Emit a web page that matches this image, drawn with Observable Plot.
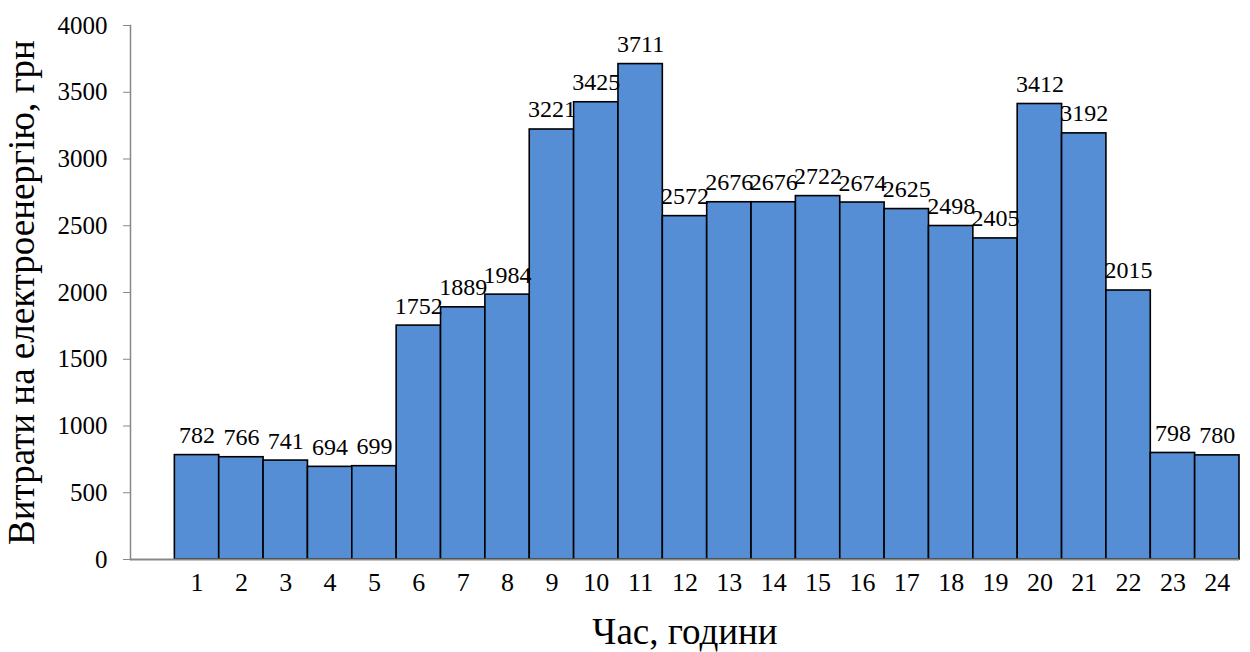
<!DOCTYPE html>
<html>
<head>
<meta charset="utf-8">
<script src="https://cdn.jsdelivr.net/npm/d3@7"></script>
<script src="https://cdn.jsdelivr.net/npm/@observablehq/plot@0.6"></script>
<style>
  html, body { margin: 0; padding: 0; background: #fff; }
</style>
</head>
<body>
<div id="chart"></div>
<script>
const hours = [1,2,3,4,5,6,7,8,9,10,11,12,13,14,15,16,17,18,19,20,21,22,23,24];
const costs = [782,766,741,694,699,1752,1889,1984,3221,3425,3711,2572,2676,2676,2722,2674,2625,2498,2405,3412,3192,2015,798,780];
const yTicks = [0,500,1000,1500,2000,2500,3000,3500,4000];
const yTitle = "Витрати на електроенергію, грн";
const xTitle = "Час, години";

const data = hours.map((h, i) => ({hour: h, cost: costs[i]}));

const chart = Plot.plot({
  width: 1250,
  height: 652,
  marginLeft: 130,
  marginRight: 11,
  marginTop: 25,
  marginBottom: 93,
  style: {fontFamily: "'Liberation Serif', 'Times New Roman', serif", fontSize: "24px", background: "#fff", color: "#000"},
  x: {type: "band", domain: [0, ...hours], padding: 0, round: false},
  y: {domain: [0, 4000]},
  marks: [
    Plot.barY(data, {x: "hour", y: "cost", fill: "#558ED5", stroke: "#000", strokeWidth: 1.6}),
    Plot.text(data, {x: "hour", y: "cost", text: d => String(d.cost), lineAnchor: "bottom", dy: -12, fontSize: 24, fill: "#000"}),
    Plot.frame({anchor: "left", stroke: "#888", strokeWidth: 1.5}),
    Plot.ruleY([0], {stroke: "#888", strokeWidth: 2}),
    Plot.axisY({ticks: yTicks, tickSize: 7, tickPadding: 16, tickFormat: d => String(d), stroke: "#888", fill: "#000", fontSize: 25,
      label: yTitle, labelAnchor: "center", labelArrow: "none", labelOffset: 123}),
    Plot.axisX({tickSize: 0, tickPadding: 13, tickFormat: d => d === 0 ? "" : String(d), fontSize: 26, fill: "#000",
      label: xTitle, labelAnchor: "center", labelArrow: "none", labelOffset: 84})
  ]
});

chart.querySelectorAll('[aria-label="y-axis label"], [aria-label="x-axis label"]').forEach(g => {
  g.setAttribute("font-size", 37);
  g.style.fontSize = "37px";
  g.querySelectorAll("text").forEach(t => { t.setAttribute("font-size", 37); t.style.fontSize = "37px"; });
});
document.getElementById("chart").append(chart);
</script>
</body>
</html>
